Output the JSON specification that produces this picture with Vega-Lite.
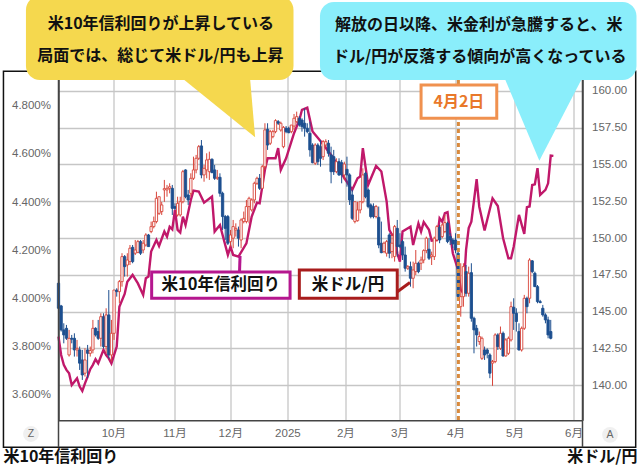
{
"$schema":"https://vega.github.io/schema/vega-lite/v6.json",
"width":524,"height":349.3,
"padding":{"left":58.5,"top":71,"right":57.5,"bottom":45.7},
"autosize":{"type":"none"},
"background":"white",
"config":{"view":{"stroke":null},"font":"Liberation Sans, Noto Sans CJK JP",
"axis":{"labelFont":"Liberation Sans, Noto Sans CJK JP","labelFontSize":11.5,"labelColor":"#666666","tickSize":0,"title":null,"domainColor":"#444444","domainWidth":1.5,"gridColor":"#c6c6c6","gridWidth":1.3},
"text":{"font":"Noto Sans CJK JP","fontWeight":"bold"}},
"datasets":{
"candles":[
{"session":0,"o":146.93,"h":147.27,"l":145.12,"c":145.23},{"session":1,"o":145.39,"h":145.46,"l":143.65,"c":143.76},{"session":2,"o":143.76,"h":144.21,"l":142.85,"c":143.42},{"session":3,"o":143.87,"h":144.10,"l":143.08,"c":143.19},{"session":4,"o":142.06,"h":143.76,"l":141.95,"c":143.19},{"session":5,"o":143.19,"h":143.42,"l":142.85,"c":143.13},{"session":6,"o":143.19,"h":143.53,"l":141.95,"c":142.40},{"session":7,"o":142.40,"h":143.08,"l":141.95,"c":142.51},{"session":8,"o":142.40,"h":142.63,"l":141.04,"c":141.50},{"session":9,"o":141.72,"h":142.40,"l":140.36,"c":140.70},
{"session":10,"o":140.82,"h":142.51,"l":140.59,"c":141.72},{"session":11,"o":142.40,"h":142.74,"l":140.48,"c":142.17},{"session":12,"o":142.17,"h":142.63,"l":141.95,"c":142.36},{"session":13,"o":142.40,"h":144.44,"l":142.17,"c":143.87},{"session":14,"o":143.87,"h":143.94,"l":143.31,"c":143.42},{"session":15,"o":143.65,"h":144.44,"l":143.08,"c":143.19},{"session":16,"o":143.19,"h":144.89,"l":142.63,"c":144.66},{"session":17,"o":144.66,"h":144.89,"l":142.51,"c":142.63},{"session":18,"o":142.63,"h":145.23,"l":142.17,"c":144.78},{"session":19,"o":144.78,"h":146.47,"l":141.83,"c":142.06},
{"session":20,"o":142.06,"h":144.44,"l":141.61,"c":143.53},{"session":21,"o":143.53,"h":146.47,"l":143.08,"c":146.47},{"session":22,"o":146.47,"h":146.59,"l":146.02,"c":146.36},{"session":23,"o":146.36,"h":147.15,"l":145.57,"c":147.04},{"session":24,"o":147.04,"h":148.97,"l":146.70,"c":148.74},{"session":25,"o":148.74,"h":148.85,"l":147.38,"c":148.06},{"session":26,"o":148.17,"h":148.97,"l":147.38,"c":148.51},{"session":27,"o":148.40,"h":149.53,"l":148.17,"c":149.31},{"session":28,"o":149.37,"h":149.53,"l":148.29,"c":148.40},{"session":29,"o":148.97,"h":149.87,"l":148.85,"c":149.19},
{"session":30,"o":149.03,"h":149.87,"l":148.97,"c":149.76},{"session":31,"o":149.76,"h":149.87,"l":148.85,"c":148.97},{"session":32,"o":149.19,"h":149.87,"l":148.97,"c":149.65},{"session":33,"o":149.53,"h":150.33,"l":149.42,"c":150.21},{"session":34,"o":150.21,"h":150.28,"l":149.42,"c":149.42},{"session":35,"o":150.44,"h":151.12,"l":150.33,"c":150.78},{"session":36,"o":150.78,"h":151.46,"l":150.66,"c":151.12},{"session":37,"o":151.12,"h":153.15,"l":151.00,"c":152.70},{"session":38,"o":151.68,"h":152.81,"l":151.57,"c":152.81},{"session":39,"o":151.80,"h":152.46,"l":151.57,"c":152.25},
{"session":40,"o":153.27,"h":153.95,"l":152.46,"c":153.36},{"session":41,"o":153.27,"h":153.61,"l":152.81,"c":153.38},{"session":42,"o":153.38,"h":153.72,"l":153.04,"c":153.49},{"session":43,"o":153.38,"h":153.61,"l":151.57,"c":152.02},{"session":44,"o":152.14,"h":152.36,"l":151.91,"c":152.02},{"session":45,"o":151.57,"h":152.81,"l":151.46,"c":152.36},{"session":46,"o":151.57,"h":152.81,"l":151.46,"c":152.47},{"session":47,"o":152.47,"h":154.63,"l":152.36,"c":154.51},{"session":48,"o":154.63,"h":154.67,"l":152.70,"c":152.81},{"session":49,"o":152.93,"h":153.27,"l":152.25,"c":152.59},
{"session":50,"o":153.04,"h":154.40,"l":152.81,"c":154.06},{"session":51,"o":154.06,"h":155.53,"l":153.95,"c":154.63},{"session":52,"o":154.63,"h":155.65,"l":154.40,"c":155.42},{"session":53,"o":155.42,"h":156.32,"l":155.30,"c":156.21},{"session":54,"o":156.26,"h":156.66,"l":154.06,"c":154.29},{"session":55,"o":154.29,"h":154.97,"l":153.83,"c":154.74},{"session":56,"o":154.63,"h":155.76,"l":154.06,"c":155.31},{"session":57,"o":154.51,"h":155.87,"l":153.95,"c":155.35},{"session":58,"o":155.35,"h":155.42,"l":154.40,"c":154.45},{"session":59,"o":154.63,"h":154.97,"l":153.95,"c":154.06},
{"session":60,"o":154.06,"h":154.63,"l":153.95,"c":154.13},{"session":61,"o":154.13,"h":154.40,"l":152.81,"c":153.04},{"session":62,"o":153.04,"h":153.15,"l":150.55,"c":151.46},{"session":63,"o":151.46,"h":151.57,"l":149.87,"c":150.66},{"session":64,"o":151.46,"h":151.57,"l":149.53,"c":149.65},{"session":65,"o":149.76,"h":150.55,"l":149.42,"c":150.21},{"session":66,"o":149.99,"h":151.23,"l":149.31,"c":150.78},{"session":67,"o":150.55,"h":151.00,"l":150.10,"c":150.66},{"session":68,"o":150.55,"h":150.78,"l":149.42,"c":149.99},{"session":69,"o":149.87,"h":151.34,"l":149.31,"c":151.23},
{"session":70,"o":151.12,"h":151.80,"l":151.00,"c":151.34},{"session":71,"o":151.12,"h":152.59,"l":151.00,"c":152.14},{"session":72,"o":152.14,"h":152.81,"l":151.00,"c":152.70},{"session":73,"o":151.91,"h":152.70,"l":151.80,"c":152.59},{"session":74,"o":152.59,"h":153.83,"l":152.36,"c":153.72},{"session":75,"o":153.72,"h":154.17,"l":153.61,"c":154.06},{"session":76,"o":154.06,"h":154.35,"l":153.27,"c":153.38},{"session":77,"o":153.38,"h":154.97,"l":153.38,"c":154.85},{"session":78,"o":154.85,"h":157.80,"l":154.63,"c":157.35},{"session":79,"o":157.39,"h":157.80,"l":155.99,"c":156.32},
{"session":80,"o":156.44,"h":157.35,"l":156.32,"c":157.23},{"session":81,"o":156.89,"h":157.35,"l":156.78,"c":157.23},{"session":82,"o":157.23,"h":158.07,"l":157.12,"c":157.98},{"session":83,"o":157.91,"h":158.02,"l":157.68,"c":157.80},{"session":84,"o":157.34,"h":157.91,"l":157.23,"c":157.80},{"session":85,"o":156.21,"h":157.61,"l":156.10,"c":157.52},{"session":86,"o":157.46,"h":157.61,"l":157.12,"c":157.23},{"session":87,"o":157.46,"h":157.57,"l":157.12,"c":157.16},{"session":88,"o":157.23,"h":157.68,"l":157.12,"c":157.68},{"session":89,"o":157.61,"h":158.43,"l":157.34,"c":158.14},
{"session":90,"o":157.91,"h":158.59,"l":157.80,"c":158.25},{"session":91,"o":158.14,"h":158.29,"l":157.57,"c":157.68},{"session":92,"o":158.02,"h":158.14,"l":157.23,"c":157.57},{"session":93,"o":157.80,"h":158.81,"l":156.89,"c":157.46},{"session":94,"o":157.46,"h":157.80,"l":157.12,"c":157.23},{"session":95,"o":157.12,"h":157.91,"l":155.53,"c":155.99},{"session":96,"o":156.32,"h":156.44,"l":155.08,"c":155.12},{"session":97,"o":155.08,"h":156.44,"l":154.97,"c":156.32},{"session":98,"o":156.32,"h":156.44,"l":154.97,"c":155.19},{"session":99,"o":156.21,"h":156.66,"l":154.85,"c":155.42},
{"session":100,"o":155.53,"h":156.66,"l":155.30,"c":156.55},{"session":101,"o":156.32,"h":156.71,"l":156.17,"c":156.55},{"session":102,"o":156.44,"h":156.66,"l":155.53,"c":155.76},{"session":103,"o":155.65,"h":156.21,"l":153.72,"c":154.51},{"session":104,"o":155.53,"h":155.99,"l":154.29,"c":154.51},{"session":105,"o":154.51,"h":155.42,"l":154.40,"c":155.19},{"session":106,"o":155.19,"h":155.42,"l":154.22,"c":154.29},{"session":107,"o":155.12,"h":155.31,"l":153.72,"c":154.29},{"session":108,"o":154.29,"h":155.19,"l":153.95,"c":155.03},{"session":109,"o":154.67,"h":155.53,"l":153.49,"c":154.29},
{"session":110,"o":154.29,"h":154.40,"l":152.25,"c":152.59},{"session":111,"o":152.93,"h":153.27,"l":151.23,"c":151.34},{"session":112,"o":151.12,"h":152.47,"l":151.00,"c":152.47},{"session":113,"o":151.18,"h":152.47,"l":151.12,"c":151.91},{"session":114,"o":151.91,"h":152.47,"l":151.68,"c":152.47},{"session":115,"o":152.47,"h":154.74,"l":152.36,"c":154.29},{"session":116,"o":154.40,"h":154.51,"l":152.70,"c":152.81},{"session":117,"o":153.27,"h":153.38,"l":152.02,"c":152.14},{"session":118,"o":152.25,"h":152.36,"l":151.34,"c":151.46},{"session":119,"o":152.14,"h":152.36,"l":151.34,"c":151.46},
{"session":120,"o":151.46,"h":152.25,"l":151.34,"c":152.14},{"session":121,"o":151.41,"h":152.14,"l":149.31,"c":149.53},{"session":122,"o":149.65,"h":151.12,"l":148.97,"c":149.01},{"session":123,"o":149.08,"h":149.76,"l":148.97,"c":149.65},{"session":124,"o":148.97,"h":149.87,"l":148.74,"c":149.76},{"session":125,"o":150.21,"h":150.33,"l":148.63,"c":148.97},{"session":126,"o":149.08,"h":150.33,"l":148.63,"c":149.65},{"session":127,"o":148.74,"h":150.89,"l":148.40,"c":150.78},{"session":128,"o":150.66,"h":151.23,"l":148.74,"c":149.42},{"session":129,"o":149.53,"h":150.33,"l":149.31,"c":149.42},
{"session":130,"o":149.76,"h":149.87,"l":148.51,"c":148.85},{"session":131,"o":148.85,"h":149.42,"l":147.72,"c":147.95},{"session":132,"o":147.95,"h":148.17,"l":147.83,"c":148.06},{"session":133,"o":148.06,"h":148.40,"l":146.70,"c":147.27},{"session":134,"o":147.27,"h":148.40,"l":146.59,"c":147.83},{"session":135,"o":147.72,"h":149.19,"l":147.49,"c":148.29},{"session":136,"o":148.29,"h":148.40,"l":147.61,"c":147.72},{"session":137,"o":148.29,"h":148.74,"l":147.83,"c":148.51},{"session":138,"o":148.51,"h":149.24,"l":148.29,"c":149.15},{"session":139,"o":149.15,"h":150.10,"l":148.97,"c":149.99},
{"session":140,"o":149.24,"h":149.99,"l":148.51,"c":148.63},{"session":141,"o":148.74,"h":149.08,"l":148.17,"c":148.85},{"session":142,"o":148.74,"h":150.10,"l":148.51,"c":149.99},{"session":143,"o":149.87,"h":150.89,"l":149.76,"c":150.78},{"session":144,"o":150.73,"h":150.89,"l":149.65,"c":149.87},{"session":145,"o":150.10,"h":151.00,"l":149.99,"c":150.89},{"session":146,"o":150.44,"h":151.57,"l":150.33,"c":151.05},{"session":147,"o":151.00,"h":151.12,"l":149.65,"c":149.76},{"session":148,"o":150.10,"h":150.33,"l":149.53,"c":149.87},{"session":149,"o":149.87,"h":149.99,"l":149.31,"c":149.60},
{"session":150,"o":149.87,"h":150.33,"l":148.97,"c":149.19},{"session":151,"o":148.97,"h":149.19,"l":145.80,"c":146.02},{"session":152,"o":145.34,"h":148.29,"l":144.66,"c":146.02},{"session":153,"o":146.02,"h":148.29,"l":145.34,"c":148.06},{"session":154,"o":147.72,"h":148.17,"l":146.02,"c":146.25},{"session":155,"o":146.25,"h":148.06,"l":146.02,"c":147.61},{"session":156,"o":147.65,"h":148.29,"l":144.32,"c":144.55},{"session":157,"o":144.55,"h":144.66,"l":142.17,"c":143.76},{"session":158,"o":143.87,"h":144.10,"l":142.63,"c":143.42},{"session":159,"o":142.97,"h":143.65,"l":142.74,"c":143.31},
{"session":160,"o":141.83,"h":143.31,"l":141.72,"c":143.19},{"session":161,"o":142.40,"h":142.63,"l":141.72,"c":142.06},{"session":162,"o":142.40,"h":142.51,"l":141.83,"c":142.17},{"session":163,"o":142.06,"h":142.17,"l":140.48,"c":140.82},{"session":164,"o":141.50,"h":141.72,"l":139.96,"c":141.61},{"session":165,"o":141.61,"h":143.53,"l":141.50,"c":143.42},{"session":166,"o":143.42,"h":143.53,"l":142.40,"c":142.63},{"session":167,"o":142.51,"h":143.99,"l":142.40,"c":143.53},{"session":168,"o":143.53,"h":143.65,"l":141.95,"c":141.99},{"session":169,"o":141.99,"h":143.19,"l":141.95,"c":143.08},
{"session":170,"o":142.17,"h":143.31,"l":142.06,"c":143.19},{"session":171,"o":143.08,"h":145.68,"l":142.97,"c":145.34},{"session":172,"o":145.30,"h":145.91,"l":143.76,"c":144.89},{"session":173,"o":144.89,"h":145.23,"l":143.65,"c":144.33},{"session":174,"o":143.65,"h":144.21,"l":142.36,"c":142.40},{"session":175,"o":142.40,"h":143.99,"l":142.29,"c":143.87},{"session":176,"o":143.87,"h":146.14,"l":143.76,"c":145.91},{"session":177,"o":145.91,"h":146.02,"l":144.89,"c":145.34},{"session":178,"o":145.91,"h":148.63,"l":145.57,"c":148.51},{"session":179,"o":148.45,"h":148.51,"l":147.61,"c":147.72},
{"session":180,"o":147.61,"h":147.72,"l":146.70,"c":146.70},{"session":181,"o":146.70,"h":146.81,"l":145.57,"c":145.68},{"session":182,"o":145.68,"h":145.80,"l":145.57,"c":145.62},{"session":183,"o":145.23,"h":145.46,"l":144.66,"c":144.78},{"session":184,"o":144.78,"h":144.89,"l":144.21,"c":144.44},{"session":185,"o":144.44,"h":144.66,"l":143.19,"c":143.42},{"session":186,"o":143.65,"h":144.44,"l":143.12,"c":143.19}
],
"yields":[
{"session":0,"rate":3.842},{"session":1,"rate":3.766},{"session":2,"rate":3.725},{"session":3,"rate":3.704},{"session":4,"rate":3.690},{"session":5,"rate":3.641},{"session":6,"rate":3.655},{"session":7,"rate":3.669},{"session":8,"rate":3.635},{"session":9,"rate":3.617},{"session":10,"rate":3.648},{"session":11,"rate":3.676},{"session":12,"rate":3.707},{"session":13,"rate":3.725},{"session":14,"rate":3.748},{"session":15,"rate":3.731},{"session":17,"rate":3.787},{"session":18,"rate":3.766},{"session":19,"rate":3.752},{"session":20,"rate":3.731},{"session":22,"rate":3.801},{"session":23,"rate":3.966},{"session":25,"rate":4.019},{"session":26,"rate":4.070},{"session":28,"rate":4.098},{"session":30,"rate":4.063},{"session":32,"rate":4.015},{"session":33,"rate":4.084},{"session":34,"rate":4.091},{"session":35,"rate":4.195},{"session":37,"rate":4.243},{"session":38,"rate":4.218},{"session":40,"rate":4.278},{"session":41,"rate":4.257},{"session":42,"rate":4.298},{"session":43,"rate":4.287},{"session":44,"rate":4.368},{"session":45,"rate":4.285},{"session":46,"rate":4.274},{"session":47,"rate":4.340},{"session":48,"rate":4.305},{"session":50,"rate":4.409},{"session":51,"rate":4.448},{"session":53,"rate":4.444},{"session":55,"rate":4.398},{"session":58,"rate":4.423},{"session":59,"rate":4.278},{"session":61,"rate":4.305},{"session":64,"rate":4.181},{"session":65,"rate":4.215},{"session":66,"rate":4.181},{"session":68,"rate":4.174},{"session":71,"rate":4.229},{"session":73,"rate":4.340},{"session":75,"rate":4.398},{"session":76,"rate":4.395},{"session":78,"rate":4.534},{"session":79,"rate":4.582},{"session":82,"rate":4.582},{"session":83,"rate":4.624},{"session":84,"rate":4.534},{"session":86,"rate":4.582},{"session":89,"rate":4.686},{"session":91,"rate":4.741},{"session":92,"rate":4.783},{"session":94,"rate":4.792},{"session":96,"rate":4.693},{"session":100,"rate":4.640},{"session":104,"rate":4.580},{"session":108,"rate":4.500},{"session":111,"rate":4.451},{"session":113,"rate":4.499},{"session":114,"rate":4.506},{"session":115,"rate":4.624},{"session":117,"rate":4.471},{"session":120,"rate":4.550},{"session":122,"rate":4.527},{"session":124,"rate":4.402},{"session":125,"rate":4.285},{"session":126,"rate":4.264},{"session":127,"rate":4.264},{"session":128,"rate":4.188},{"session":129,"rate":4.153},{"session":130,"rate":4.278},{"session":133,"rate":4.298},{"session":134,"rate":4.222},{"session":136,"rate":4.312},{"session":137,"rate":4.278},{"session":138,"rate":4.317},{"session":140,"rate":4.285},{"session":141,"rate":4.240},{"session":143,"rate":4.243},{"session":144,"rate":4.333},{"session":145,"rate":4.319},{"session":146,"rate":4.354},{"session":147,"rate":4.358},{"session":148,"rate":4.271},{"session":149,"rate":4.188},{"session":151,"rate":4.119},{"session":152,"rate":4.036},{"session":153,"rate":4.022},{"session":154,"rate":4.202},{"session":155,"rate":4.292},{"session":156,"rate":4.319},{"session":158,"rate":4.495},{"session":159,"rate":4.381},{"session":161,"rate":4.282},{"session":164,"rate":4.416},{"session":166,"rate":4.384},{"session":168,"rate":4.250},{"session":170,"rate":4.167},{"session":171,"rate":4.167},{"session":172,"rate":4.215},{"session":174,"rate":4.347},{"session":176,"rate":4.268},{"session":177,"rate":4.379},{"session":178,"rate":4.382},{"session":179,"rate":4.471},{"session":180,"rate":4.474},{"session":181,"rate":4.541},{"session":182,"rate":4.430},{"session":184,"rate":4.451},{"session":185,"rate":4.478},{"session":186,"rate":4.593},{"session":187,"rate":4.592}
]},
"resolve":{"scale":{"y":"independent"}},
"layer":[
{"data":{"name":"yields"},"mark":{"type":"line","color":"#c0186a","strokeWidth":2.4,"interpolate":"linear"},
"encoding":{
"x":{"field":"session","type":"quantitative","scale":{"domain":[0,198],"nice":false,"zero":false,"padding":0},
"axis":{"values":[20.7,43.8,64.9,86.5,108.4,128.8,150,172.3,194.6],"grid":true,"labelPadding":7,"labelFlush":false,
"labelExpr":"datum.value<30?'10月':datum.value<50?'11月':datum.value<70?'12月':datum.value<90?'2025':datum.value<115?'2月':datum.value<140?'3月':datum.value<160?'4月':datum.value<180?'5月':'6月'"}},
"y":{"field":"rate","type":"quantitative","scale":{"domain":[3.495,4.944],"nice":false,"zero":false},
"axis":{"orient":"left","values":[3.6,3.8,4.0,4.2,4.4,4.6,4.8],"grid":false,"labelPadding":8,"labelExpr":"format(datum.value,'.3f')+'%'"}}}},
{"layer":[
{"data":{"name":"candles"},"mark":{"type":"rule","strokeWidth":1},
"encoding":{
"x":{"field":"session","type":"quantitative","scale":{"domain":[0,198],"nice":false,"zero":false,"padding":0}},
"y":{"field":"l","type":"quantitative","scale":{"domain":[137.62,161.35],"nice":false,"zero":false},
"axis":{"orient":"right","values":[140,142.5,145,147.5,150,152.5,155,157.5,160],"format":".2f","grid":true,"labelPadding":9}},
"y2":{"field":"h"},
"color":{"condition":{"test":"datum.c>=datum.o","value":"#d8453a"},"value":"#1d4f8f"}}},
{"data":{"name":"candles"},"mark":{"type":"bar","size":2.3,"strokeWidth":0.9,"orient":"vertical"},
"encoding":{
"x":{"field":"session","type":"quantitative"},
"y":{"field":"o","type":"quantitative"},
"y2":{"field":"c"},
"fill":{"condition":{"test":"datum.c>=datum.o","value":"#ffffff"},"value":"#1d4f8f"},
"stroke":{"condition":{"test":"datum.c>=datum.o","value":"#d8453a"},"value":"#1d4f8f"}}},
{"data":{"values":[{"a":-20.8,"a2":218.1,"u":161.33,"u2":135.79}]},"mark":{"type":"rect","filled":false,"stroke":"#111111","strokeWidth":1.5},
"encoding":{"x":{"field":"a","type":"quantitative"},"x2":{"field":"a2"},"y":{"field":"u","type":"quantitative"},"y2":{"field":"u2"}}},
{"data":{"values":[{"a":0,"u":161.35,"u2":135.79},{"a":198,"u":161.35,"u2":135.79}]},"mark":{"type":"rule","color":"#444444","strokeWidth":1.5},
"encoding":{"x":{"field":"a","type":"quantitative"},"y":{"field":"u","type":"quantitative"},"y2":{"field":"u2"}}},
{"data":{"values":[{"a":151.1,"u":160.74,"u2":137.62}]},"mark":{"type":"rule","color":"#d98a3d","strokeWidth":3,"strokeDash":[4,3]},
"encoding":{"x":{"field":"a","type":"quantitative"},"y":{"field":"u","type":"quantitative"},"y2":{"field":"u2"}}},
{"data":{"values":[{"a":68.4,"a2":68.6,"u":147.7,"u2":148.79,"k":"m"},{"a":127.9,"a2":132.8,"u":146.34,"u2":146.98,"k":"r"}]},"mark":{"type":"rule","strokeWidth":3},
"encoding":{"x":{"field":"a","type":"quantitative"},"x2":{"field":"a2"},"y":{"field":"u","type":"quantitative"},"y2":{"field":"u2"},
"color":{"condition":{"test":"datum.k=='m'","value":"#b5178f"},"value":"#a81c1c"}}},
{"data":{"values":[{"a":35.2,"a2":87.5,"u":147.7,"u2":145.91,"k":"m"},{"a":91,"a2":128,"u":147.83,"u2":145.91,"k":"r"},{"a":137,"a2":165.6,"u":160.4,"u2":158.14,"k":"o"}]},"mark":{"type":"rect","fill":"#ffffff","strokeWidth":3},
"encoding":{"x":{"field":"a","type":"quantitative"},"x2":{"field":"a2"},"y":{"field":"u","type":"quantitative"},"y2":{"field":"u2"},
"stroke":{"condition":[{"test":"datum.k=='m'","value":"#b5178f"},{"test":"datum.k=='r'","value":"#a81c1c"}],"value":"#f0914f"}}},
{"data":{"values":[{"a":47.1,"a2":72.4,"u":160.8},{"a":74.3,"a2":74.3,"u":156.85}]},"mark":{"type":"area","orient":"horizontal","color":"#f5d84e"},
"encoding":{"x":{"field":"a","type":"quantitative"},"x2":{"field":"a2"},"y":{"field":"u","type":"quantitative"}}},
{"data":{"values":[{"a":168.7,"a2":197.7,"u":160.8},{"a":181.7,"a2":181.7,"u":155.26}]},"mark":{"type":"area","orient":"horizontal","color":"#8aeefb"},
"encoding":{"x":{"field":"a","type":"quantitative"},"x2":{"field":"a2"},"y":{"field":"u","type":"quantitative"}}},
{"data":{"values":[{"a":-12.3,"a2":88.8,"u":166.45,"u2":160.74,"k":"y"},{"a":98.8,"a2":218.4,"u":166.04,"u2":160.74,"k":"c"}]},"mark":{"type":"rect","cornerRadius":14},
"encoding":{"x":{"field":"a","type":"quantitative"},"x2":{"field":"a2"},"y":{"field":"u","type":"quantitative"},"y2":{"field":"u2"},
"fill":{"condition":{"test":"datum.k=='y'","value":"#f5d84e"},"value":"#8aeefb"}}},
{"data":{"values":[{"a":-10.4,"u":136.69},{"a":208.4,"u":136.63}]},"mark":{"type":"point","filled":true,"shape":"circle","size":250,"color":"#f0f0f0","opacity":1},
"encoding":{"x":{"field":"a","type":"quantitative"},"y":{"field":"u","type":"quantitative"}}},
{"data":{"values":[{"a":-10.4,"u":136.69,"t":"Z"},{"a":208.4,"u":136.63,"t":"A"}]},"mark":{"type":"text","font":"Liberation Sans","fontWeight":"normal","fontSize":10.5,"color":"#666666","baseline":"middle"},
"encoding":{"x":{"field":"a","type":"quantitative"},"y":{"field":"u","type":"quantitative"},"text":{"field":"t"}}},
{"data":{"values":[{"a":38.7,"u":164.54,"t":"米10年信利回りが上昇している"},{"a":38.5,"u":162.37,"t":"局面では、総じて米ドル/円も上昇"},{"a":158.8,"u":164.48,"t":"解放の日以降、米金利が急騰すると、米"},{"a":159.2,"u":162.3,"t":"ドル/円が反落する傾向が高くなっている"}]},"mark":{"type":"text","fontSize":16,"color":"#111111","baseline":"middle"},
"encoding":{"x":{"field":"a","type":"quantitative"},"y":{"field":"u","type":"quantitative"},"text":{"field":"t"}}},
{"data":{"values":[{"a":61.3,"u":146.81,"t":"米10年信利回り"},{"a":109.4,"u":146.81,"t":"米ドル/円"}]},"mark":{"type":"text","fontSize":16.5,"color":"#111111","baseline":"middle"},
"encoding":{"x":{"field":"a","type":"quantitative"},"y":{"field":"u","type":"quantitative"},"text":{"field":"t"}}},
{"data":{"values":[{"a":151.3,"u":159.25,"t":"4月2日"}]},"mark":{"type":"text","fontSize":16,"color":"#e9782a","baseline":"middle"},
"encoding":{"x":{"field":"a","type":"quantitative"},"y":{"field":"u","type":"quantitative"},"text":{"field":"t"}}},
{"data":{"values":[{"a":-20.8,"u":135.1,"t":"米10年信利回り"}]},"mark":{"type":"text","fontSize":16,"color":"#111111","baseline":"middle","align":"left"},
"encoding":{"x":{"field":"a","type":"quantitative"},"y":{"field":"u","type":"quantitative"},"text":{"field":"t"}}},
{"data":{"values":[{"a":218.8,"u":135.1,"t":"米ドル/円"}]},"mark":{"type":"text","fontSize":16,"color":"#111111","baseline":"middle","align":"right"},
"encoding":{"x":{"field":"a","type":"quantitative"},"y":{"field":"u","type":"quantitative"},"text":{"field":"t"}}}
]}
]
}
